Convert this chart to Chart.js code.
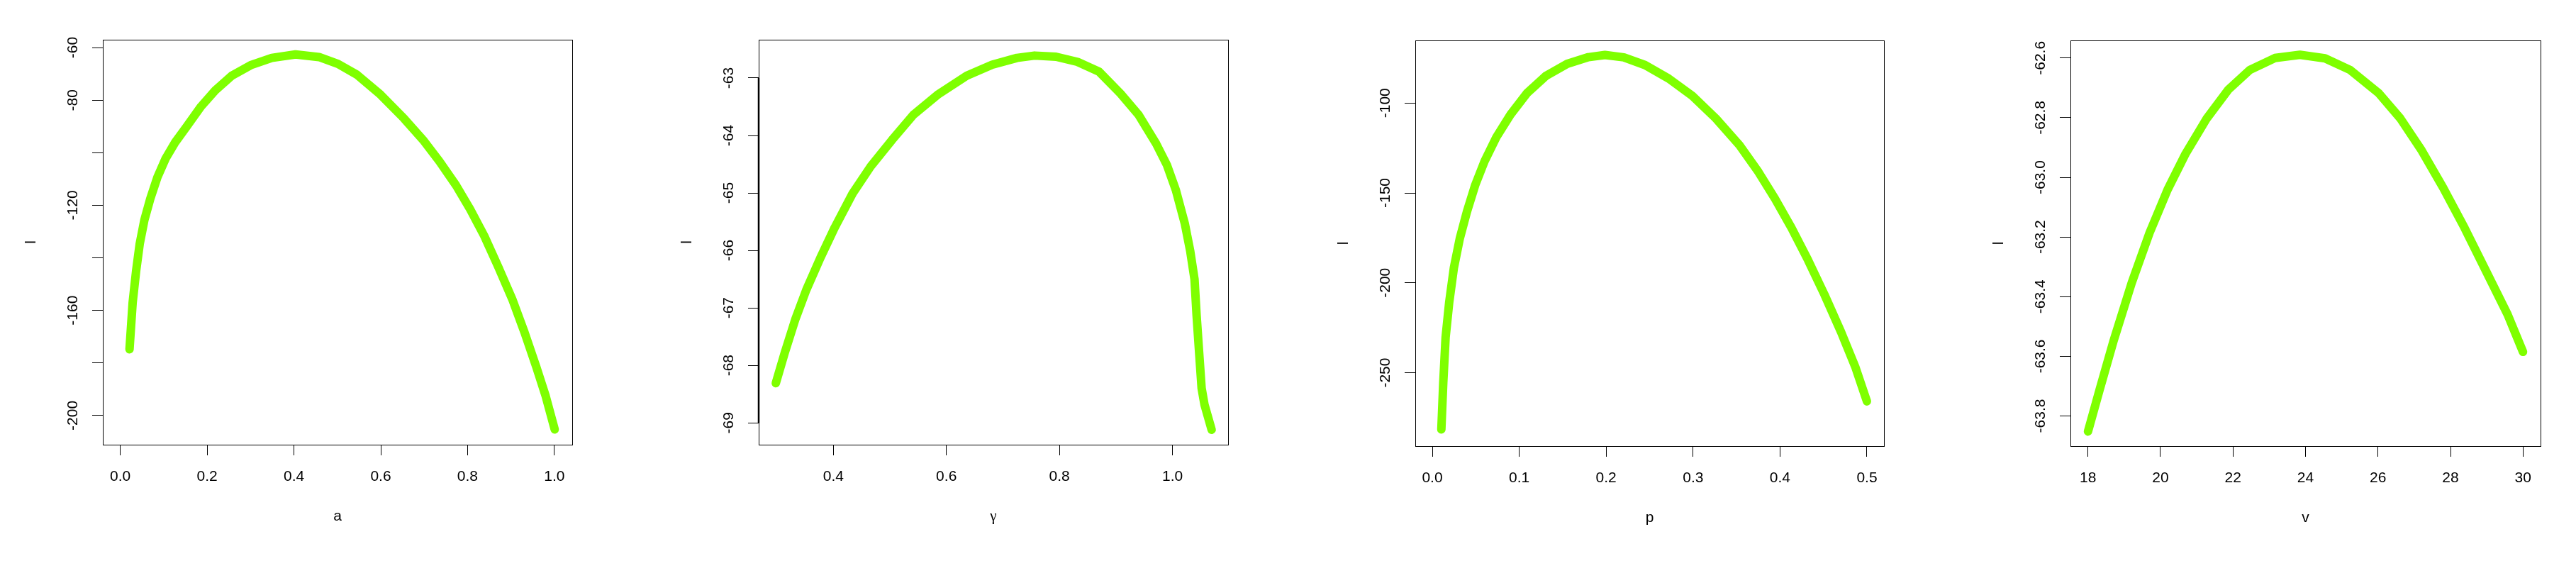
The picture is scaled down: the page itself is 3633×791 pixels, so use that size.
<!DOCTYPE html>
<html>
<head>
<meta charset="utf-8">
<script src="https://cdn.jsdelivr.net/npm/chart.js@4.4.1/dist/chart.umd.min.js"></script>
<style>
  html, body { margin: 0; padding: 0; background: #fff; }
  body { width: 3633px; height: 791px; position: relative; overflow: hidden; }
  canvas { position: absolute; top: 0; }
</style>
</head>
<body>
<canvas id="pa"></canvas>
<canvas id="pg"></canvas>
<canvas id="pp"></canvas>
<canvas id="pv"></canvas>
<script>
// profile log-likelihood curves

// a
const aValues = [0.0212, 0.0284, 0.0365, 0.0447, 0.0555, 0.0691, 0.0855, 0.1044, 0.1262, 0.1534, 0.1860, 0.2186, 0.2568,
  0.3002, 0.3491, 0.4036, 0.4579, 0.5015, 0.5449, 0.5994, 0.6537, 0.6973, 0.7353, 0.7733, 0.8059, 0.8385, 0.8711,
  0.9038, 0.9310, 0.9583, 0.9799, 1.0007];
const aLik = [-174.8, -157.1, -144.9, -134.7, -125.6, -117.5, -109.3, -102.2, -96.1, -89.9, -82.4, -76.3, -70.7,
  -66.7, -63.9, -62.6, -63.6, -66.2, -70.3, -77.9, -87.0, -95.1, -103.3, -112.4, -121.5, -131.7, -143.6,
  -156.1, -168.3, -181.5, -192.6, -205.3];
const aTicks = [0, 0.2, 0.4, 0.6, 0.8, 1.0];
const aTickLabels = ['0.0', '0.2', '0.4', '0.6', '0.8', '1.0'];
const aLikTicks = [-200, -180, -160, -140, -120, -100, -80, -60];
const aLikTickLabels = ['-200', '', '-160', '', '-120', '', '-80', '-60'];

// gamma
const gValues = [0.2982, 0.314, 0.333, 0.352, 0.377, 0.4025, 0.434, 0.466, 0.5037, 0.5416, 0.586, 0.636, 0.681, 0.725,
  0.756, 0.794, 0.832, 0.870, 0.908, 0.940, 0.971, 0.990, 1.006, 1.022, 1.0314, 1.039, 1.0427, 1.047, 1.0516, 1.0566, 1.0693];
const gLik = [-68.31, -67.78, -67.19, -66.69, -66.13, -65.60, -65.01, -64.54, -64.08, -63.64, -63.28, -62.96, -62.77, -62.65,
  -62.61, -62.63, -62.72, -62.89, -63.27, -63.64, -64.14, -64.51, -64.95, -65.54, -66.01, -66.50, -67.13, -67.75, -68.40, -68.68, -69.12];
const gTicks = [0.4, 0.6, 0.8, 1.0];
const gTickLabels = ['0.4', '0.6', '0.8', '1.0'];
const gLikTicks = [-69, -68, -67, -66, -65, -64, -63];
const gLikTickLabels = ['-69', '-68', '-67', '-66', '-65', '-64', '-63'];

// p
const pValues = [0.0104, 0.0126, 0.0153, 0.0194, 0.0248, 0.0316, 0.0398, 0.0493, 0.0601, 0.0737, 0.0900, 0.1090, 0.1307,
  0.1552, 0.1796, 0.1986, 0.2203, 0.2448, 0.2719, 0.2991, 0.3262, 0.3534, 0.3751, 0.3941, 0.4132, 0.4322, 0.4511,
  0.4702, 0.4865, 0.5000];
const pLik = [-281.5, -255.5, -230.3, -211.0, -191.7, -175.4, -160.5, -145.7, -132.4, -119.0, -106.4, -94.5, -84.9,
  -78.2, -74.5, -73.3, -74.6, -78.9, -86.4, -96.0, -108.6, -123.5, -138.3, -153.1, -169.4, -187.3, -206.5,
  -227.3, -246.6, -265.9];
const pTicks = [0, 0.1, 0.2, 0.3, 0.4, 0.5];
const pTickLabels = ['0.0', '0.1', '0.2', '0.3', '0.4', '0.5'];
const pLikTicks = [-250, -200, -150, -100];
const pLikTickLabels = ['-250', '-200', '-150', '-100'];

// v
const vValues = [18.0, 18.316, 18.711, 19.205, 19.699, 20.193, 20.687, 21.279, 21.872, 22.464, 23.156, 23.847,
  24.538, 25.230, 26.020, 26.613, 27.205, 27.798, 28.390, 28.983, 29.576, 30.0];
const vLik = [-63.852, -63.714, -63.546, -63.354, -63.186, -63.042, -62.922, -62.802, -62.706, -62.640, -62.600, -62.589,
  -62.601, -62.640, -62.718, -62.802, -62.910, -63.035, -63.170, -63.315, -63.460, -63.585];
const vTicks = [18, 20, 22, 24, 26, 28, 30];
const vTickLabels = ['18', '20', '22', '24', '26', '28', '30'];
const vLikTicks = [-63.8, -63.6, -63.4, -63.2, -63.0, -62.8, -62.6];
const vLikTickLabels = ['-63.8', '-63.6', '-63.4', '-63.2', '-63.0', '-62.8', '-62.6'];

const FONT = "'Liberation Sans', Arial, sans-serif";
const FONT_SIZE = 21;
const LINE_COLOR = '#7FFF00';
const PAGE_H = 791;
const Y_AXIS_W = 145;   // canvas left edge to plot box

const panels = [
  { id: 'pa', xlab: 'a', x: aValues, y: aLik, xt: aTicks, xl: aTickLabels, yt: aLikTicks, yl: aLikTickLabels,
    xr: [-0.0403, 1.041], yr: [-211.1, -57.0], box: { l: 145, r: 807, t: 56, b: 627 } },
  { id: 'pg', xlab: 'γ', xfont: "'Liberation Serif', serif", x: gValues, y: gLik, xt: gTicks, xl: gTickLabels, yt: gLikTicks, yl: gLikTickLabels,
    xr: [0.2679, 1.0984], yr: [-69.38, -62.334], box: { l: 1070, r: 1732, t: 56, b: 627 }, axisLine: 2.5 },
  { id: 'pp', xlab: 'p', x: pValues, y: pLik, xt: pTicks, xl: pTickLabels, yt: pLikTicks, yl: pLikTickLabels,
    xr: [-0.0196, 0.5196], yr: [-290.8, -65.2], box: { l: 1996, r: 2657, t: 57, b: 629 } },
  { id: 'pv', xlab: 'v', x: vValues, y: vLik, xt: vTicks, xl: vTickLabels, yt: vLikTicks, yl: vLikTickLabels,
    xr: [17.516, 30.484], yr: [-63.901, -62.541], box: { l: 2920, r: 3583, t: 57, b: 629 } }
];

const measureCtx = document.createElement('canvas').getContext('2d');
function widest(labels) {
  measureCtx.font = FONT_SIZE + 'px ' + FONT;
  return Math.max(...labels.map(t => measureCtx.measureText(t).width));
}

// R style box round the plot region, plus the y axis line where it shows
const rBox = {
  id: 'rBox',
  afterDraw(chart, args, opts) {
    const { ctx, chartArea: a } = chart;
    ctx.save();
    ctx.strokeStyle = '#000';
    ctx.lineWidth = 1;
    ctx.strokeRect(Math.round(a.left) + 0.5, Math.round(a.top) + 0.5,
      Math.round(a.right - a.left), Math.round(a.bottom - a.top));
    if (opts.axisLine) {
      const ys = chart.scales.y;
      const t = ys.ticks;
      ctx.lineWidth = opts.axisLine;
      ctx.beginPath();
      ctx.moveTo(Math.round(a.left), ys.getPixelForValue(t[0].value));
      ctx.lineTo(Math.round(a.left), ys.getPixelForValue(t[t.length - 1].value));
      ctx.stroke();
    }
    ctx.restore();
  }
};

panels.forEach(p => {
  const left = p.box.l - Y_AXIS_W;
  const width = Math.min(925, 3633 - left);
  const cv = document.getElementById(p.id);
  cv.width = width;
  cv.height = PAGE_H;
  cv.style.left = left + 'px';

  const xAxisH = PAGE_H - p.box.b;
  const font = { family: FONT, size: FONT_SIZE };

  new Chart(cv, {
    type: 'scatter',
    data: {
      datasets: [{
        data: p.x.map((v, i) => ({ x: v, y: p.y[i] })),
        showLine: true,
        borderColor: LINE_COLOR,
        borderWidth: 12,
        borderCapStyle: 'round',
        borderJoinStyle: 'round',
        pointRadius: 0,
        tension: 0,
        clip: false
      }]
    },
    options: {
      responsive: false,
      animation: false,
      devicePixelRatio: 1,
      layout: { padding: { top: p.box.t, right: width - (p.box.r - left), left: 0, bottom: 0 } },
      plugins: { legend: { display: false }, tooltip: { enabled: false }, rBox: { axisLine: p.axisLine || 0 } },
      scales: {
        x: {
          type: 'linear',
          min: p.xr[0], max: p.xr[1],
          afterBuildTicks: s => { s.ticks = p.xt.map(v => ({ value: v })); },
          afterFit: s => { s.height = xAxisH; },
          ticks: {
            autoSkip: false, maxRotation: 0, minRotation: 0,
            padding: 18, color: '#000', font,
            callback: (v, i) => p.xl[i]
          },
          grid: { drawOnChartArea: false, drawTicks: true, tickLength: 15, color: '#000', lineWidth: 1 },
          border: { display: false },
          title: {
            display: true, text: p.xlab, color: '#000',
            font: { family: p.xfont || FONT, size: FONT_SIZE },
            padding: { top: 0, bottom: xAxisH - 101.6 - FONT_SIZE * 0.6 }
          }
        },
        y: {
          type: 'linear',
          min: p.yr[0], max: p.yr[1],
          afterBuildTicks: s => { s.ticks = p.yt.map(v => ({ value: v })); },
          afterFit: s => { s.width = Y_AXIS_W; },
          ticks: {
            autoSkip: false, minRotation: 90, maxRotation: 90,
            crossAlign: 'center',
            padding: 42 - 15 - widest(p.yl) / 2,
            color: '#000', font,
            callback: (v, i) => p.yl[i]
          },
          grid: { drawOnChartArea: false, drawTicks: true, tickLength: 15, color: '#000', lineWidth: 1 },
          border: { display: false },
          title: {
            display: true, text: 'l', color: '#000', font,
            padding: { top: Y_AXIS_W - 101 - FONT_SIZE * 0.6, bottom: 0 }
          }
        }
      }
    },
    plugins: [rBox]
  });
});
</script>
</body>
</html>
